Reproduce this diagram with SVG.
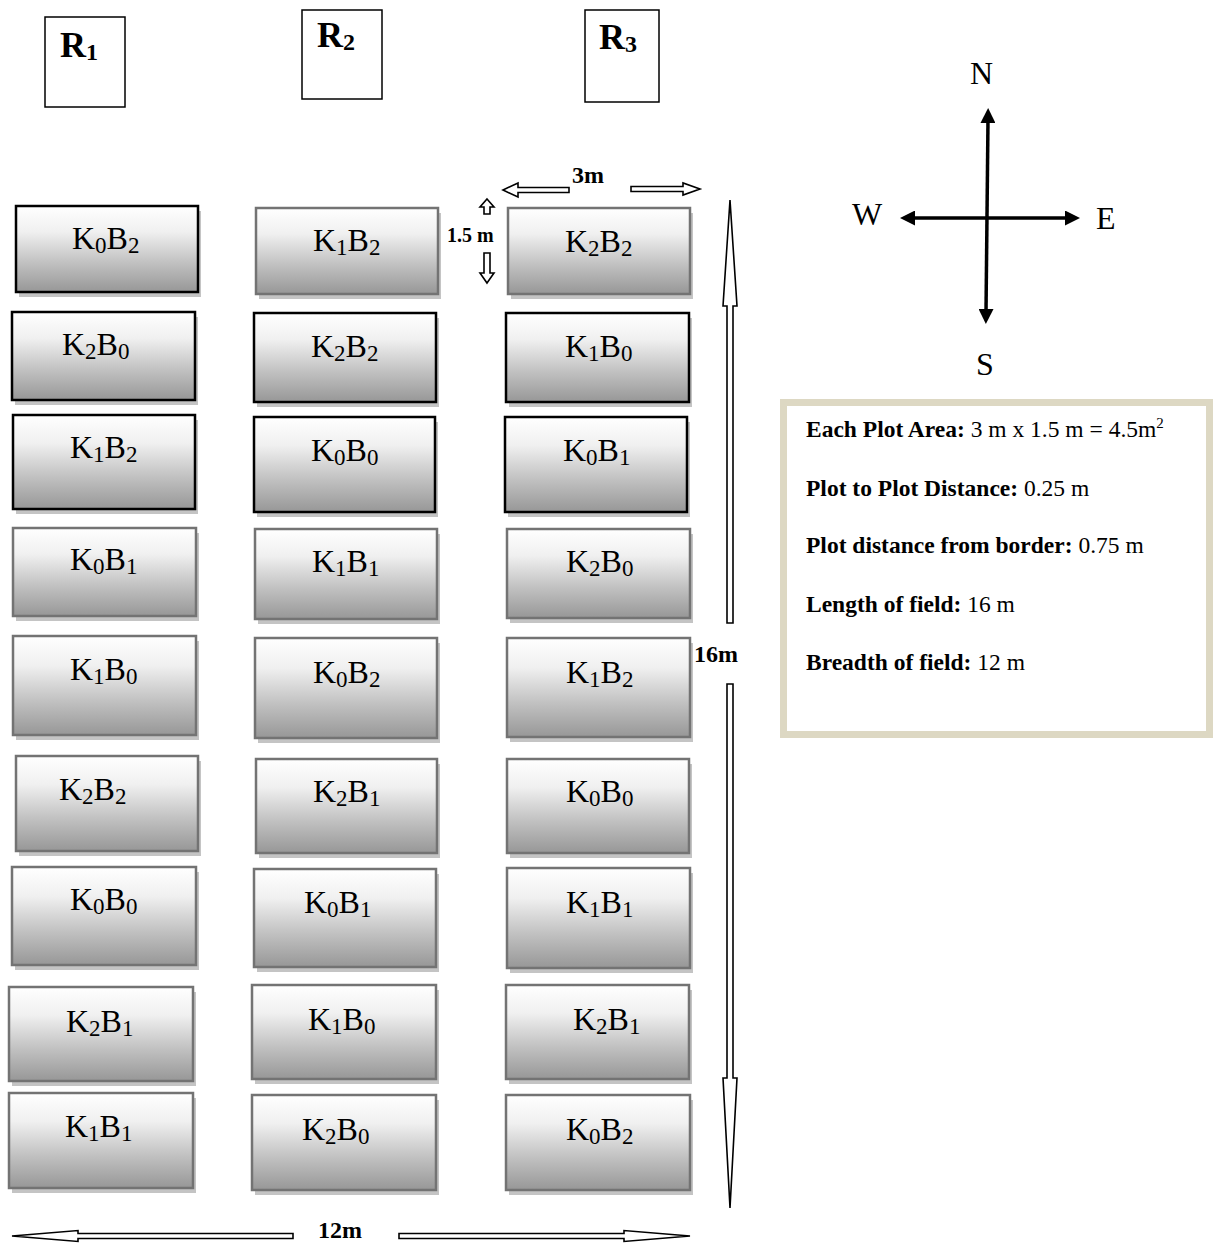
<svg xmlns="http://www.w3.org/2000/svg" width="1215" height="1243" viewBox="0 0 1215 1243">
<style>
text{font-family:"Liberation Serif","Times New Roman",serif;fill:#000}
.sh{fill:#c4c4c4}
.p{fill:url(#grad);stroke-width:2.5}
.bk{stroke:#000}
.gy{stroke:#737373}
.lbl{font-size:32px}
.s{font-size:23px}
.rb{fill:#fff;stroke:#000;stroke-width:1.5}
.rt{font-size:36px;font-weight:bold}
.rs{font-size:24px}
.dim{font-weight:bold;font-size:24px}
.ho{fill:#fff;stroke:#000;stroke-width:1.6;stroke-linejoin:miter}
.cp{stroke:#000;stroke-width:3.5;fill:none}
.cl{font-size:32px}
.info{font-size:23.5px}
.info .b{font-weight:bold}
</style>
<defs>
<linearGradient id="grad" x1="0" y1="0" x2="0" y2="1">
<stop offset="0" stop-color="#ffffff"/>
<stop offset="0.3" stop-color="#f0f0f0"/>
<stop offset="0.65" stop-color="#c2c2c2"/>
<stop offset="1" stop-color="#979797"/>
</linearGradient>
<marker id="ah" viewBox="0 0 10 10" refX="2" refY="5" markerWidth="15" markerHeight="15" markerUnits="userSpaceOnUse" orient="auto-start-reverse">
<path d="M0,0 L10,5 L0,10 z" fill="#000"/>
</marker>
</defs>

<g id="rep-R1"><rect class="rb" x="45" y="17" width="80" height="90"/><text class="rt" x="60" y="57">R<tspan class="rs" dy="3">1</tspan></text></g>
<g id="rep-R2"><rect class="rb" x="302" y="10" width="80" height="89"/><text class="rt" x="317" y="47">R<tspan class="rs" dy="3">2</tspan></text></g>
<g id="rep-R3"><rect class="rb" x="585" y="10" width="74" height="92"/><text class="rt" x="599" y="49">R<tspan class="rs" dy="3">3</tspan></text></g>

<g id="plots">
<g id="c1r1"><rect class="sh" x="19" y="211" width="182" height="86"/><rect class="p bk" x="16" y="206" width="182" height="86"/><text class="lbl" x="72" y="249">K<tspan class="s" dy="4">0</tspan><tspan dy="-4">B</tspan><tspan class="s" dy="4">2</tspan></text></g>
<g id="c1r2"><rect class="sh" x="15" y="317" width="183" height="88"/><rect class="p bk" x="12" y="312" width="183" height="88"/><text class="lbl" x="62" y="355">K<tspan class="s" dy="4">2</tspan><tspan dy="-4">B</tspan><tspan class="s" dy="4">0</tspan></text></g>
<g id="c1r3"><rect class="sh" x="16" y="420" width="182" height="94"/><rect class="p bk" x="13" y="415" width="182" height="94"/><text class="lbl" x="70" y="458">K<tspan class="s" dy="4">1</tspan><tspan dy="-4">B</tspan><tspan class="s" dy="4">2</tspan></text></g>
<g id="c1r4"><rect class="sh" x="16" y="533" width="183" height="88"/><rect class="p gy" x="13" y="528" width="183" height="88"/><text class="lbl" x="70" y="570">K<tspan class="s" dy="4">0</tspan><tspan dy="-4">B</tspan><tspan class="s" dy="4">1</tspan></text></g>
<g id="c1r5"><rect class="sh" x="16" y="641" width="183" height="99"/><rect class="p gy" x="13" y="636" width="183" height="99"/><text class="lbl" x="70" y="680">K<tspan class="s" dy="4">1</tspan><tspan dy="-4">B</tspan><tspan class="s" dy="4">0</tspan></text></g>
<g id="c1r6"><rect class="sh" x="19" y="761" width="182" height="95"/><rect class="p gy" x="16" y="756" width="182" height="95"/><text class="lbl" x="59" y="800">K<tspan class="s" dy="4">2</tspan><tspan dy="-4">B</tspan><tspan class="s" dy="4">2</tspan></text></g>
<g id="c1r7"><rect class="sh" x="15" y="872" width="184" height="98"/><rect class="p gy" x="12" y="867" width="184" height="98"/><text class="lbl" x="70" y="910">K<tspan class="s" dy="4">0</tspan><tspan dy="-4">B</tspan><tspan class="s" dy="4">0</tspan></text></g>
<g id="c1r8"><rect class="sh" x="12" y="992" width="184" height="94"/><rect class="p gy" x="9" y="987" width="184" height="94"/><text class="lbl" x="66" y="1032">K<tspan class="s" dy="4">2</tspan><tspan dy="-4">B</tspan><tspan class="s" dy="4">1</tspan></text></g>
<g id="c1r9"><rect class="sh" x="12" y="1098" width="184" height="95"/><rect class="p gy" x="9" y="1093" width="184" height="95"/><text class="lbl" x="65" y="1137">K<tspan class="s" dy="4">1</tspan><tspan dy="-4">B</tspan><tspan class="s" dy="4">1</tspan></text></g>

<g id="c2r1"><rect class="sh" x="259" y="213" width="182" height="86"/><rect class="p gy" x="256" y="208" width="182" height="86"/><text class="lbl" x="313" y="251">K<tspan class="s" dy="4">1</tspan><tspan dy="-4">B</tspan><tspan class="s" dy="4">2</tspan></text></g>
<g id="c2r2"><rect class="sh" x="257" y="318" width="182" height="89"/><rect class="p bk" x="254" y="313" width="182" height="89"/><text class="lbl" x="311" y="357">K<tspan class="s" dy="4">2</tspan><tspan dy="-4">B</tspan><tspan class="s" dy="4">2</tspan></text></g>
<g id="c2r3"><rect class="sh" x="257" y="422" width="181" height="95"/><rect class="p bk" x="254" y="417" width="181" height="95"/><text class="lbl" x="311" y="461">K<tspan class="s" dy="4">0</tspan><tspan dy="-4">B</tspan><tspan class="s" dy="4">0</tspan></text></g>
<g id="c2r4"><rect class="sh" x="258" y="534" width="182" height="90"/><rect class="p gy" x="255" y="529" width="182" height="90"/><text class="lbl" x="312" y="572">K<tspan class="s" dy="4">1</tspan><tspan dy="-4">B</tspan><tspan class="s" dy="4">1</tspan></text></g>
<g id="c2r5"><rect class="sh" x="258" y="643" width="182" height="100"/><rect class="p gy" x="255" y="638" width="182" height="100"/><text class="lbl" x="313" y="683">K<tspan class="s" dy="4">0</tspan><tspan dy="-4">B</tspan><tspan class="s" dy="4">2</tspan></text></g>
<g id="c2r6"><rect class="sh" x="259" y="764" width="181" height="94"/><rect class="p gy" x="256" y="759" width="181" height="94"/><text class="lbl" x="313" y="802">K<tspan class="s" dy="4">2</tspan><tspan dy="-4">B</tspan><tspan class="s" dy="4">1</tspan></text></g>
<g id="c2r7"><rect class="sh" x="257" y="874" width="182" height="98"/><rect class="p gy" x="254" y="869" width="182" height="98"/><text class="lbl" x="304" y="913">K<tspan class="s" dy="4">0</tspan><tspan dy="-4">B</tspan><tspan class="s" dy="4">1</tspan></text></g>
<g id="c2r8"><rect class="sh" x="255" y="990" width="184" height="94"/><rect class="p gy" x="252" y="985" width="184" height="94"/><text class="lbl" x="308" y="1030">K<tspan class="s" dy="4">1</tspan><tspan dy="-4">B</tspan><tspan class="s" dy="4">0</tspan></text></g>
<g id="c2r9"><rect class="sh" x="255" y="1100" width="184" height="95"/><rect class="p gy" x="252" y="1095" width="184" height="95"/><text class="lbl" x="302" y="1140">K<tspan class="s" dy="4">2</tspan><tspan dy="-4">B</tspan><tspan class="s" dy="4">0</tspan></text></g>

<g id="c3r1"><rect class="sh" x="511" y="213" width="182" height="86"/><rect class="p gy" x="508" y="208" width="182" height="86"/><text class="lbl" x="565" y="252">K<tspan class="s" dy="4">2</tspan><tspan dy="-4">B</tspan><tspan class="s" dy="4">2</tspan></text></g>
<g id="c3r2"><rect class="sh" x="509" y="318" width="183" height="89"/><rect class="p bk" x="506" y="313" width="183" height="89"/><text class="lbl" x="565" y="357">K<tspan class="s" dy="4">1</tspan><tspan dy="-4">B</tspan><tspan class="s" dy="4">0</tspan></text></g>
<g id="c3r3"><rect class="sh" x="508" y="422" width="182" height="95"/><rect class="p bk" x="505" y="417" width="182" height="95"/><text class="lbl" x="563" y="461">K<tspan class="s" dy="4">0</tspan><tspan dy="-4">B</tspan><tspan class="s" dy="4">1</tspan></text></g>
<g id="c3r4"><rect class="sh" x="510" y="534" width="183" height="89"/><rect class="p gy" x="507" y="529" width="183" height="89"/><text class="lbl" x="566" y="572">K<tspan class="s" dy="4">2</tspan><tspan dy="-4">B</tspan><tspan class="s" dy="4">0</tspan></text></g>
<g id="c3r5"><rect class="sh" x="510" y="643" width="183" height="99"/><rect class="p gy" x="507" y="638" width="183" height="99"/><text class="lbl" x="566" y="683">K<tspan class="s" dy="4">1</tspan><tspan dy="-4">B</tspan><tspan class="s" dy="4">2</tspan></text></g>
<g id="c3r6"><rect class="sh" x="510" y="764" width="182" height="94"/><rect class="p gy" x="507" y="759" width="182" height="94"/><text class="lbl" x="566" y="802">K<tspan class="s" dy="4">0</tspan><tspan dy="-4">B</tspan><tspan class="s" dy="4">0</tspan></text></g>
<g id="c3r7"><rect class="sh" x="510" y="873" width="183" height="100"/><rect class="p gy" x="507" y="868" width="183" height="100"/><text class="lbl" x="566" y="913">K<tspan class="s" dy="4">1</tspan><tspan dy="-4">B</tspan><tspan class="s" dy="4">1</tspan></text></g>
<g id="c3r8"><rect class="sh" x="509" y="990" width="183" height="94"/><rect class="p gy" x="506" y="985" width="183" height="94"/><text class="lbl" x="573" y="1030">K<tspan class="s" dy="4">2</tspan><tspan dy="-4">B</tspan><tspan class="s" dy="4">1</tspan></text></g>
<g id="c3r9"><rect class="sh" x="509" y="1100" width="184" height="95"/><rect class="p gy" x="506" y="1095" width="184" height="95"/><text class="lbl" x="566" y="1140">K<tspan class="s" dy="4">0</tspan><tspan dy="-4">B</tspan><tspan class="s" dy="4">2</tspan></text></g>
</g>

<g id="connectors">
<polygon class="ho" points="503,190 518,183 518,187.5 569,187.5 569,192.5 518,192.5 518,197"/>
<polygon class="ho" points="700,189 683,183 683,186.5 631,186.5 631,191.5 683,191.5 683,195"/>
<polygon class="ho" points="487,199 494,207 490,207 490,214 484,214 484,207 480,207"/>
<polygon class="ho" points="487,283 494,273 490,273 490,253 484,253 484,273 480,273"/>
<polygon class="ho" points="730,200 737,306 733,306 733,623 727,623 727,306 723,306"/>
<polygon class="ho" points="727,684 733,684 733,1078 737,1078 730,1208 723,1078 727,1078"/>
<polygon class="ho" points="12,1236 78,1230.5 78,1233.5 293,1233.5 293,1238.5 78,1238.5 78,1241.5"/>
<polygon class="ho" points="690,1236 624,1230.5 624,1233.5 399,1233.5 399,1238.5 624,1238.5 624,1241.5"/>
<line class="cp" x1="988" y1="120" x2="986" y2="312" marker-start="url(#ah)" marker-end="url(#ah)"/>
<line class="cp" x1="912" y1="218" x2="1068" y2="218" marker-start="url(#ah)" marker-end="url(#ah)"/>
</g>

<g id="dim-labels">
<text class="dim" x="572" y="183">3m</text>
<text class="dim" x="447" y="242" style="font-size:20px">1.5 m</text>
<text class="dim" x="694" y="662">16m</text>
<text class="dim" x="318" y="1238">12m</text>
</g>

<g id="compass">
<text class="cl" x="970" y="84">N</text>
<text class="cl" x="976" y="375">S</text>
<text class="cl" x="852" y="225">W</text>
<text class="cl" x="1096" y="229">E</text>
</g>

<g id="info-box">
<rect x="783.5" y="402.5" width="426" height="332" fill="#fff" stroke="#ddd8c3" stroke-width="7"/>
<text class="info" x="806" y="437"><tspan class="b">Each Plot Area:</tspan> 3 m x 1.5 m = 4.5m<tspan font-size="15" dy="-9">2</tspan></text>
<text class="info" x="806" y="496"><tspan class="b">Plot to Plot Distance:</tspan> 0.25 m</text>
<text class="info" x="806" y="553"><tspan class="b">Plot distance from border:</tspan> 0.75 m</text>
<text class="info" x="806" y="612"><tspan class="b">Length of field:</tspan> 16 m</text>
<text class="info" x="806" y="670"><tspan class="b">Breadth of field:</tspan> 12 m</text>
</g>
</svg>
